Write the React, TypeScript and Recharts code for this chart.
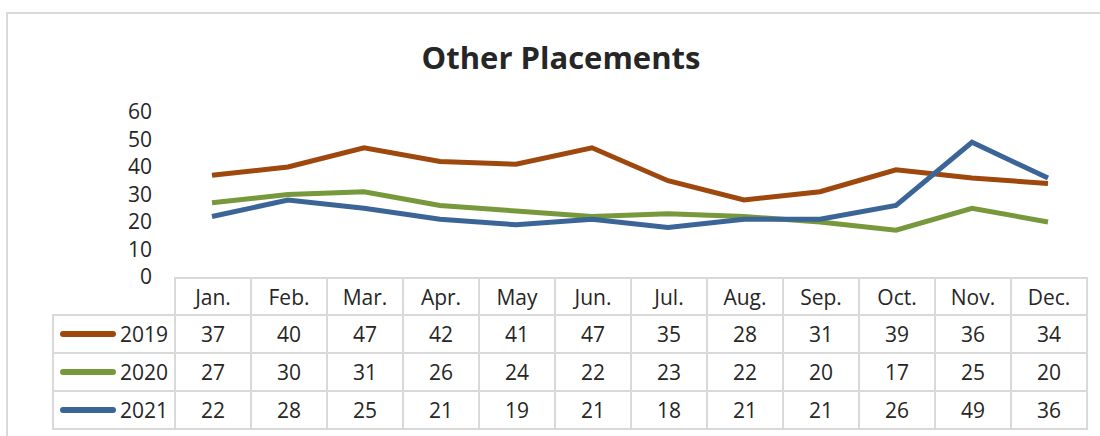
import { LineChart, Line, XAxis, YAxis } from "recharts";

const months = ["Jan.", "Feb.", "Mar.", "Apr.", "May", "Jun.", "Jul.", "Aug.", "Sep.", "Oct.", "Nov.", "Dec."];
const values2019 = [37, 40, 47, 42, 41, 47, 35, 28, 31, 39, 36, 34];
const values2020 = [27, 30, 31, 26, 24, 22, 23, 22, 20, 17, 25, 20];
const values2021 = [22, 28, 25, 21, 19, 21, 18, 21, 21, 26, 49, 36];
const yTicks = [0, 10, 20, 30, 40, 50, 60];

const series = [
  { key: "y2019", label: "2019", color: "#9E480E", values: values2019 },
  { key: "y2020", label: "2020", color: "#77983B", values: values2020 },
  { key: "y2021", label: "2021", color: "#3B6597", values: values2021 },
];

const data = months.map((m, i) => {
  const row: { [k: string]: string | number } = { month: m };
  series.forEach((s) => {
    row[s.key] = s.values[i];
  });
  return row;
});

const FONT = "'Open Sans', sans-serif";
const TEXT = "#262626";
const GRID = "#d9d9d9";

const cell: React.CSSProperties = {
  border: `2px solid ${GRID}`,
  textAlign: "center",
  verticalAlign: "middle",
  padding: 0,
  fontSize: 21,
  color: TEXT,
};

export default function App() {
  return (
    <div
      style={{
        position: "absolute",
        left: 0,
        top: 0,
        width: 1100,
        height: 436,
        background: "#fff",
        overflow: "hidden",
        fontFamily: FONT,
      }}
    >
      <div
        style={{
          position: "absolute",
          left: 6,
          top: 12,
          width: 1110,
          height: 440,
          borderTop: `2px solid ${GRID}`,
          borderLeft: `2px solid ${GRID}`,
        }}
      />
      <div
        style={{
          position: "absolute",
          left: 0,
          top: 36,
          width: 1122,
          textAlign: "center",
          fontSize: 31,
          fontWeight: 700,
          color: TEXT,
        }}
      >
        Other Placements
      </div>
      <div style={{ position: "absolute", left: 0, top: 0 }}>
        <LineChart
          width={1100}
          height={300}
          data={data}
          margin={{ top: 112, right: 14, bottom: 23, left: 114 }}
        >
          <XAxis dataKey="month" hide padding={{ left: 38, right: 38 }} />
          <YAxis
            width={60}
            domain={[0, 60]}
            ticks={yTicks}
            interval={0}
            axisLine={false}
            tickLine={false}
            tickSize={0}
            tickMargin={22}
            tick={{ fill: TEXT, fontSize: 21, fontFamily: FONT }}
          />
          {series.map((s) => (
            <Line
              key={s.key}
              dataKey={s.key}
              stroke={s.color}
              strokeWidth={5}
              dot={false}
              activeDot={false}
              isAnimationActive={false}
            />
          ))}
        </LineChart>
      </div>
      <table
        style={{
          position: "absolute",
          left: 52,
          top: 277,
          borderCollapse: "collapse",
          tableLayout: "fixed",
          width: 1035,
          fontFamily: FONT,
        }}
      >
        <colgroup>
          <col style={{ width: 122 }} />
          {months.map((m) => (
            <col key={m} style={{ width: 76 }} />
          ))}
        </colgroup>
        <tbody>
          <tr style={{ height: 37 }}>
            <td style={{ ...cell, border: "none" }} />
            {months.map((m) => (
              <td key={m} style={cell}>
                {m}
              </td>
            ))}
          </tr>
          {series.map((s) => (
            <tr key={s.key} style={{ height: 38 }}>
              <td style={{ ...cell, textAlign: "right", paddingRight: 6 }}>
                <div style={{ display: "flex", alignItems: "center", justifyContent: "flex-end", gap: 4 }}>
                  <span
                    style={{
                      display: "inline-block",
                      width: 56,
                      height: 6,
                      borderRadius: 3,
                      background: s.color,
                    }}
                  />
                  <span>{s.label}</span>
                </div>
              </td>
              {s.values.map((v, i) => (
                <td key={i} style={cell}>
                  {v}
                </td>
              ))}
            </tr>
          ))}
        </tbody>
      </table>
    </div>
  );
}
